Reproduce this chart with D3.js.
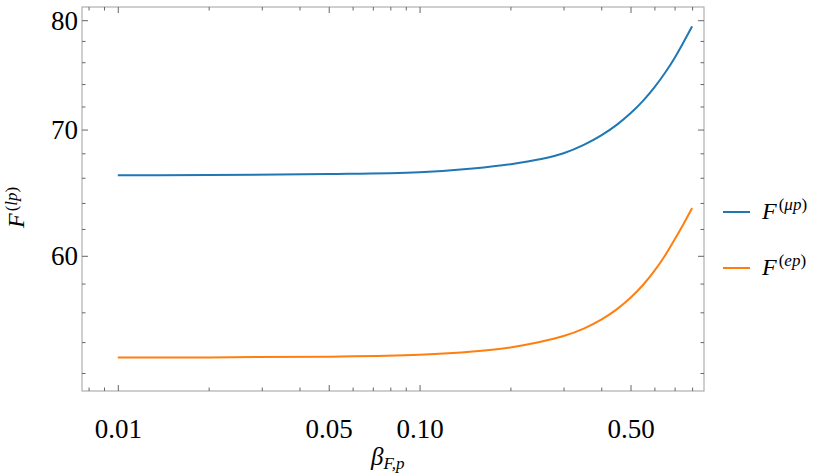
<!DOCTYPE html>
<html>
<head>
<meta charset="utf-8">
<script src="https://cdn.jsdelivr.net/npm/d3@7"></script>
<style>
  body { margin: 0; background: #fff; }
</style>
</head>
<body>
<div id="viz"></div>
<script>
// data
const BETA = [0.01, 0.02, 0.05, 0.1, 0.15, 0.2, 0.25, 0.3, 0.35, 0.4, 0.45, 0.5, 0.55, 0.6, 0.65, 0.7, 0.75, 0.8];
const F_MUP = [66.2, 66.22, 66.3, 66.45, 66.75, 67.1, 67.5, 68.0, 68.7, 69.5, 70.4, 71.4, 72.5, 73.7, 75.0, 76.4, 77.9, 79.4];
const F_EP = [53.0, 53.0, 53.05, 53.17, 53.38, 53.65, 54.0, 54.4, 54.9, 55.5, 56.2, 57.0, 57.9, 58.9, 60.0, 61.2, 62.4, 63.6];

const X_MAJOR = [0.01, 0.05, 0.1, 0.5];
const X_MINOR = [0.008, 0.009, 0.02, 0.03, 0.04, 0.06, 0.07, 0.08, 0.09, 0.2, 0.3, 0.4, 0.6, 0.7, 0.8];
const Y_MAJOR = [60, 70, 80];
const Y_MINOR = [52, 54, 56, 58, 62, 64, 66, 68, 72, 74, 76, 78];

const SERIES = [
  {name: "μp", values: F_MUP, color: "#1f77b4"},
  {name: "ep", values: F_EP, color: "#ff7f0e"}
];

const SERIF = "'Liberation Serif', 'Times New Roman', Times, serif";

// frame geometry
const W = 830, H = 476;
const PLOT = {left: 82, right: 704, top: 7, bottom: 391};

const FRAME = d3.select("#viz")
  .append("svg")
    .attr("width", W)
    .attr("height", H);

const X_SCALE = d3.scaleLog()
  .domain([0.00761, 0.876])
  .range([PLOT.left, PLOT.right]);

const Y_SCALE = d3.scaleLog()
  .domain([50.87, 81.3])
  .range([PLOT.bottom, PLOT.top]);

// frame box
FRAME.append("rect")
  .attr("x", PLOT.left).attr("y", PLOT.top)
  .attr("width", PLOT.right - PLOT.left)
  .attr("height", PLOT.bottom - PLOT.top)
  .attr("fill", "none")
  .attr("stroke", "#b0b0b0")
  .attr("stroke-width", 1.2);

// ticks, all pointing inward
function addAxis(axis, vals, size, tx, ty, labels) {
  const g = FRAME.append("g")
    .attr("transform", "translate(" + tx + "," + ty + ")")
    .call(axis.tickValues(vals).tickSize(-size).tickFormat(labels ? labels : ""));
  g.select(".domain").remove();
  g.selectAll(".tick line").attr("stroke", "#666").attr("stroke-width", 1);
  g.selectAll(".tick text")
    .style("font-family", SERIF)
    .style("font-size", "27px")
    .attr("fill", "#000");
  return g;
}

addAxis(d3.axisBottom(X_SCALE), X_MINOR, 3.5, 0, PLOT.bottom);
addAxis(d3.axisTop(X_SCALE), X_MINOR, 3.5, 0, PLOT.top);
addAxis(d3.axisTop(X_SCALE), X_MAJOR, 6, 0, PLOT.top);
const xAx = addAxis(d3.axisBottom(X_SCALE), X_MAJOR, 6, 0, PLOT.bottom, d3.format(".2f"));
xAx.selectAll(".tick text").attr("y", 47).attr("dy", 0);

addAxis(d3.axisLeft(Y_SCALE), Y_MINOR, 3.5, PLOT.left, 0);
addAxis(d3.axisRight(Y_SCALE), Y_MINOR, 3.5, PLOT.right, 0);
addAxis(d3.axisRight(Y_SCALE), Y_MAJOR, 6, PLOT.right, 0);
const yAx = addAxis(d3.axisLeft(Y_SCALE), Y_MAJOR, 6, PLOT.left, 0, d3.format("d"));
yAx.selectAll(".tick text").attr("x", -4).attr("dy", "0.33em");

// curves
const line = d3.line()
  .x((d) => X_SCALE(d[0]))
  .y((d) => Y_SCALE(d[1]))
  .curve(d3.curveMonotoneX);

SERIES.forEach((s) => {
  FRAME.append("path")
    .datum(BETA.map((b, i) => [b, s.values[i]]))
    .attr("d", line)
    .attr("fill", "none")
    .attr("stroke", s.color)
    .attr("stroke-width", 2);
});

// axis titles
const xt = FRAME.append("text")
  .attr("x", 371).attr("y", 465)
  .style("font-family", SERIF)
  .style("font-size", "25px");
xt.append("tspan").attr("font-style", "italic").text("β");
xt.append("tspan").style("font-size", "17px").attr("dy", 4)
  .attr("font-style", "italic").text("F,p");

const yt = FRAME.append("text")
  .attr("transform", "translate(24,228) rotate(-90)")
  .style("font-family", SERIF)
  .style("font-size", "24px");
yt.append("tspan").attr("font-style", "italic").text("F");
yt.append("tspan").style("font-size", "17px").attr("dy", -7).attr("dx", 2).text("(");
yt.append("tspan").style("font-size", "17px").attr("font-style", "italic").text("lp");
yt.append("tspan").style("font-size", "17px").text(")");

// legend
const LEG_Y = [212, 268];
SERIES.forEach((s, i) => {
  FRAME.append("line")
    .attr("x1", 723).attr("x2", 750)
    .attr("y1", LEG_Y[i]).attr("y2", LEG_Y[i])
    .attr("stroke", s.color)
    .attr("stroke-width", 2);
  const t = FRAME.append("text")
    .attr("x", 762).attr("y", LEG_Y[i] + 7)
    .style("font-family", SERIF)
    .style("font-size", "24px");
  t.append("tspan").attr("font-style", "italic").text("F");
  t.append("tspan").style("font-size", "17px").attr("dy", -9).attr("dx", 2).text("(");
  t.append("tspan").style("font-size", "17px").attr("font-style", "italic").text(s.name);
  t.append("tspan").style("font-size", "17px").text(")");
});
</script>
</body>
</html>
